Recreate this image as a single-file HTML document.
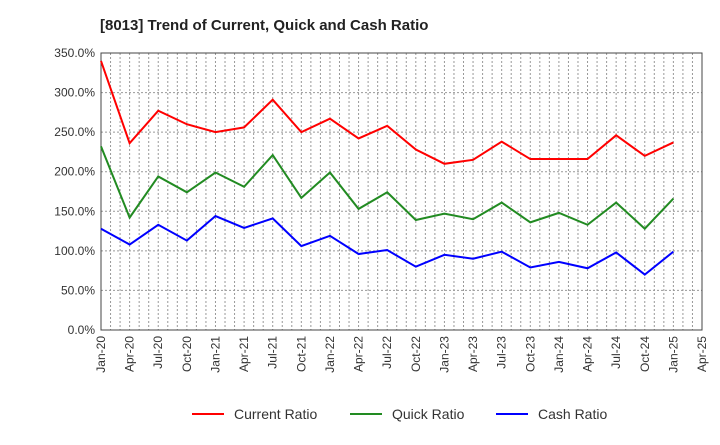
<!DOCTYPE html>
<html><head><meta charset="utf-8"><style>
body{margin:0;background:#fff;font-family:"Liberation Sans",sans-serif;}
svg text{font-family:"Liberation Sans",sans-serif;}
</style></head><body>
<svg id="c" width="720" height="440">
<text x="100" y="30" font-size="15" font-weight="bold" fill="#222">[8013]  Trend of Current, Quick and Cash Ratio</text>
<g id="grid"></g><g id="axes"></g><g id="series"></g><g id="legend"></g>
</svg>
<script>
const xLabels=["Jan-20","Apr-20","Jul-20","Oct-20","Jan-21","Apr-21","Jul-21","Oct-21","Jan-22","Apr-22","Jul-22","Oct-22","Jan-23","Apr-23","Jul-23","Oct-23","Jan-24","Apr-24","Jul-24","Oct-24","Jan-25","Apr-25"];
const yTicks=[0,50,100,150,200,250,300,350];
const currentRatio=[340,236,277,260,250,256,291,250,267,242,258,228,210,215,238,216,216,216,246,220,237];
const quickRatio=[232,142,194,174,199,181,221,167,199,153,174,139,147,140,161,136,148,133,161,128,166];
const cashRatio=[128,108,133,113,144,129,141,106,119,96,101,80,95,90,99,79,86,78,98,70,99];
const L=101,R=702,T=53,B=330;
const NS="http://www.w3.org/2000/svg";
const xq=i=>L+i*(R-L)/(xLabels.length-1);
const y=v=>B-v/350*(B-T);
function mk(t,a,p){const e=document.createElementNS(NS,t);for(const k in a)e.setAttribute(k,a[k]);p.appendChild(e);return e;}
const grid=document.getElementById('grid'),axes=document.getElementById('axes'),ser=document.getElementById('series'),leg=document.getElementById('legend');
for(let m=1;m<(xLabels.length-1)*3;m++){const x=L+m*(R-L)/((xLabels.length-1)*3);
 const g=mk('line',{x1:x,x2:x,y1:T,y2:B,stroke:'#999','stroke-dasharray':'2,2','stroke-width':1},grid);
 }
yTicks.forEach(v=>{if(v>0&&v<350){const g=mk('line',{x1:L,x2:R,y1:y(v),y2:y(v),stroke:'#999','stroke-dasharray':'2,2'},grid);
 }
 const t=mk('text',{x:L-6,y:y(v)+4,'text-anchor':'end','font-size':12,fill:'#333'},axes);t.textContent=v.toFixed(1)+'%';
 });
const fr=mk('rect',{x:L,y:T,width:R-L,height:B-T,fill:'none',stroke:'#444','stroke-width':1},axes);

xLabels.forEach((s,i)=>{const x=xq(i);const t=mk('text',{x:x+4,y:B+6,'text-anchor':'end','font-size':12,fill:'#333',transform:`rotate(-90 ${x+4} ${B+6})`},axes);t.textContent=s;
 });
const S=[["Current Ratio",currentRatio,"#ff0000","current-ratio-line"],["Quick Ratio",quickRatio,"#228b22","quick-ratio-line"],["Cash Ratio",cashRatio,"#0000ff","cash-ratio-line"]];
S.forEach(([n,d,c,id],k)=>{const p=mk('polyline',{points:d.map((v,i)=>xq(i)+','+y(v)).join(' '),fill:'none',stroke:c,'stroke-width':2},ser);
 
 const lx=[192,350,496][k];
 const g=mk('g',{},leg);
 mk('line',{x1:lx,x2:lx+32,y1:414,y2:414,stroke:c,'stroke-width':2},g);
 const t=mk('text',{x:lx+42,y:419,'font-size':14,fill:'#333'},g);t.textContent=n;});
</script>
</body></html>
